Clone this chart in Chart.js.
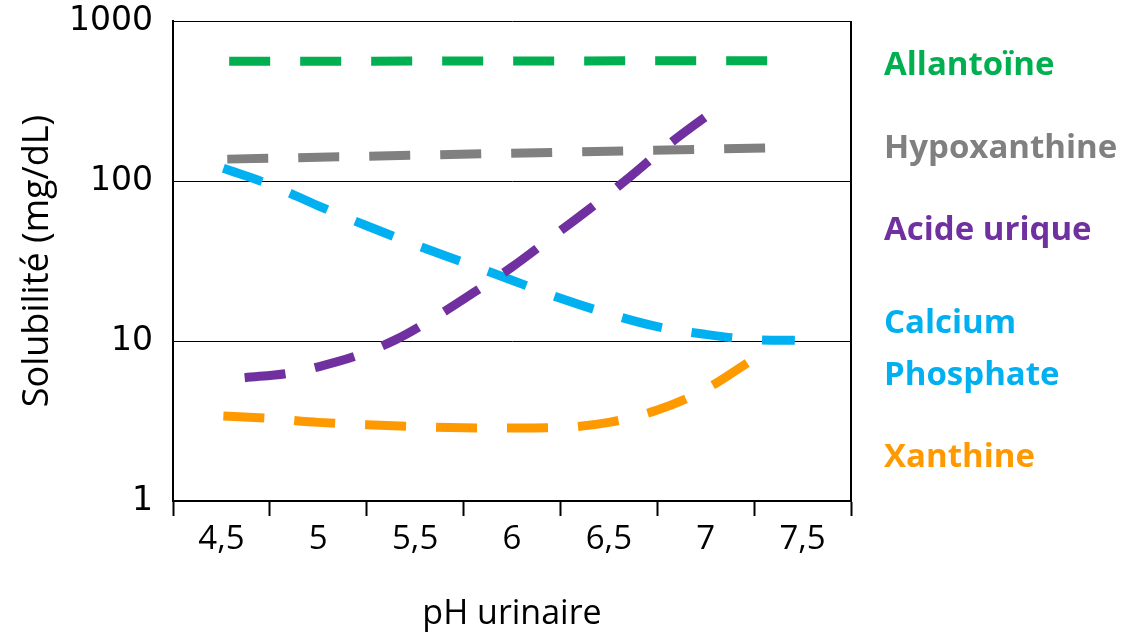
<!DOCTYPE html>
<html lang="fr">
<head>
<meta charset="utf-8">
<title>Solubilité selon le pH urinaire</title>
<script src="https://cdn.jsdelivr.net/npm/chart.js@4.4.1/dist/chart.umd.min.js"></script>
<style>
  html, body { margin: 0; padding: 0; background: #fff; }
  #wrap { width: 1139px; height: 637px; position: relative; }
</style>
</head>
<body>
<div id="wrap"><canvas id="chart" width="1139" height="637"></canvas></div>
<script>
// Solubility vs urinary pH (log scale)
const xLabelTicks = [4.5, 5, 5.5, 6, 6.5, 7, 7.5];
const xMarkTicks = [4.25, 4.75, 5.25, 5.75, 6.25, 6.75, 7.25, 7.75];
const yTicks = [1, 10, 100, 1000];

const phAllantoine = [4.54, 7.33];
const allantoine = [560, 565];

const phHypoxanthine = [4.53, 7.32];
const hypoxanthine = [137, 161];

const phAcideUrique = [4.62, 4.85, 5.0, 5.2, 5.4, 5.6, 5.8, 6.0, 6.2, 6.4, 6.6, 6.8, 7.01];
const acideUrique = [5.9, 6.3, 6.9, 8.1, 10.2, 14, 20, 29, 44, 67, 104, 166, 258];

const phCalcium = [4.51, 4.75, 5.0, 5.25, 5.5, 5.75, 6.0, 6.25, 6.5, 6.75, 7.0, 7.25, 7.46];
const calciumPhosphate = [120, 95, 70, 52.5, 40, 31, 24, 18.5, 14.8, 12.3, 11, 10.2, 10.1];

const phXanthine = [4.51, 4.75, 5.0, 5.25, 5.5, 5.75, 6.0, 6.25, 6.5, 6.75, 7.0, 7.23];
const xanthine = [3.4, 3.28, 3.1, 3.0, 2.92, 2.87, 2.86, 2.88, 3.1, 3.7, 5.0, 7.5];

const legendItems = [
  { lines: ['Allantoïne'], color: '#00B050' },
  { lines: ['Hypoxanthine'], color: '#808080' },
  { lines: ['Acide urique'], color: '#7030A0' },
  { lines: ['Calcium', 'Phosphate'], color: '#00B0F0' },
  { lines: ['Xanthine'], color: '#FF9900' }
];

const pts = (xs, ys) => xs.map((x, i) => ({ x, y: ys[i] }));
const series = (label, xs, ys, color) => ({
  label,
  data: pts(xs, ys),
  borderColor: color,
  backgroundColor: color,
  borderWidth: 9,
  borderDash: [41, 30],
  borderCapStyle: 'butt',
  cubicInterpolationMode: 'monotone',
  pointRadius: 0,
  fill: false
});

// right frame line + coloured labels on the right
const extras = {
  id: 'extras',
  afterDraw(chart) {
    const { ctx, chartArea: a } = chart;
    ctx.save();
    ctx.strokeStyle = '#000';
    ctx.lineWidth = 2;
    ctx.beginPath();
    ctx.moveTo(a.right, a.top);
    ctx.lineTo(a.right, a.bottom);
    ctx.stroke();

    const baselines = [[75], [158], [240], [333, 385], [467]];
    ctx.font = 'bold 33px "Open Sans"';
    ctx.textBaseline = 'alphabetic';
    ctx.textAlign = 'left';
    legendItems.forEach((it, i) => {
      ctx.fillStyle = it.color;
      it.lines.forEach((t, j) => ctx.fillText(t, 884, baselines[i][j]));
    });
    ctx.restore();
  }
};

new Chart(document.getElementById('chart'), {
  type: 'line',
  data: {
    datasets: [
      series('Allantoïne', phAllantoine, allantoine, '#00B050'),
      series('Hypoxanthine', phHypoxanthine, hypoxanthine, '#808080'),
      series('Acide urique', phAcideUrique, acideUrique, '#7030A0'),
      series('Calcium Phosphate', phCalcium, calciumPhosphate, '#00B0F0'),
      series('Xanthine', phXanthine, xanthine, '#FF9900')
    ]
  },
  options: {
    responsive: false,
    animation: false,
    events: [],
    layout: { padding: { top: 21, right: 288, bottom: 0, left: 0 } },
    plugins: { legend: { display: false }, tooltip: { enabled: false } },
    scales: {
      x: {
        type: 'linear',
        min: 4.25,
        max: 7.75,
        afterBuildTicks: s => {
          s.ticks = [...xMarkTicks, ...xLabelTicks].sort((a, b) => a - b).map(v => ({ value: v }));
        },
        afterFit: s => { s.height = 136; },
        ticks: {
          autoSkip: false,
          maxRotation: 0,
          color: '#000',
          padding: 4,
          font: { family: 'Open Sans', size: 33 },
          callback: v => xLabelTicks.includes(v) ? String(v).replace('.', ',') : ''
        },
        grid: {
          drawOnChartArea: false,
          tickLength: 15,
          tickWidth: 2,
          tickColor: c => (c.tick && xMarkTicks.includes(c.tick.value)) ? '#000' : 'rgba(0,0,0,0)'
        },
        border: { color: '#000', width: 2 },
        title: {
          display: true,
          text: 'pH urinaire',
          color: '#000',
          font: { family: 'Open Sans', size: 34 },
          padding: { top: 0, bottom: 2 }
        }
      },
      y: {
        type: 'logarithmic',
        min: 1,
        max: 1000,
        afterBuildTicks: s => { s.ticks = yTicks.map(v => ({ value: v })); },
        afterFit: s => { s.width = 173; s.paddingTop = 0; s.paddingBottom = 0; },
        ticks: {
          color: '#000',
          padding: 20,
          font: { family: 'DejaVu Sans', size: 33 },
          callback: v => String(v)
        },
        grid: { color: '#000', lineWidth: 1, drawTicks: false },
        border: { color: '#000', width: 2 },
        title: {
          display: true,
          text: 'Solubilité (mg/dL)',
          color: '#000',
          font: { family: 'Open Sans', size: 36 },
          padding: { top: 16, bottom: 0 }
        }
      }
    }
  },
  plugins: [extras]
});
</script>
</body>
</html>
